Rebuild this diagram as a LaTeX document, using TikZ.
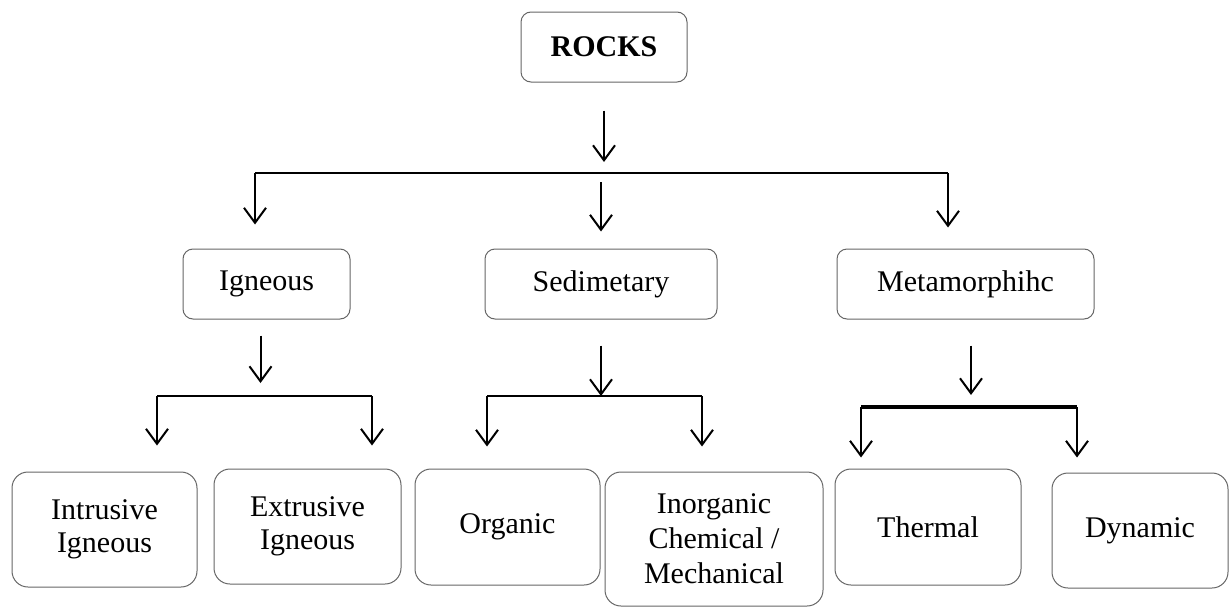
\documentclass[tikz,border=0pt]{standalone}
\usepackage{fontspec}
\setmainfont{Liberation Serif}
\usetikzlibrary{arrows.meta}
\tikzstyle{box}=[draw=black!60,line width=1pt,rounded corners=10pt,align=center,inner sep=0pt,font=\fontsize{30}{33}\selectfont]
\tikzstyle{tall}=[box,rounded corners=16pt]
\tikzstyle{arr}=[line width=2pt,-{Straight Barb[length=15pt,width=22pt]}]
\tikzstyle{bar}=[line width=2pt]
\tikzstyle{thickbar}=[line width=3.5pt]

\begin{document}
\begin{tikzpicture}[x=1pt,y=-1pt]
	\useasboundingbox (0,0) rectangle (1229,608);
	\node[box,minimum width=166pt,minimum height=70pt] (rocks) at (604,47) {\textbf{ROCKS}};
	\node[box,minimum width=167pt,minimum height=70pt] (ign) at (266.5,284) {Igneous};
	\node[box,minimum width=232pt,minimum height=70pt] (sed) at (601,284) {Sedimetary};
	\node[box,minimum width=257pt,minimum height=70pt] (met) at (965.5,284) {Metamorphihc};
	\node[tall,minimum width=185pt,minimum height=115pt] (intr) at (104.5,529.5) {Intrusive\\Igneous};
	\node[tall,minimum width=187pt,minimum height=115pt] (extr) at (307.5,526.5) {Extrusive\\Igneous};
	\node[tall,minimum width=185pt,minimum height=116pt] (org) at (507.5,527) {Organic};
	\node[tall,minimum width=218pt,minimum height=134pt,font=\fontsize{30}{35}\selectfont] (inorg) at (714,539) {Inorganic\\Chemical /\\Mechanical};
	\node[tall,minimum width=186pt,minimum height=116pt] (therm) at (928,527) {Thermal};
	\node[tall,minimum width=176pt,minimum height=115pt] (dyn) at (1140,530.5) {Dynamic};
	% first split
	\coordinate (top-l) at (255,173);
	\coordinate (top-r) at (948,173);
	\draw[bar] (top-l) -- (top-r);
	\draw[arr,shorten <=28pt,shorten >=11pt] (rocks.south) -- (rocks.south |- top-l);
	\draw[arr,shorten >=24pt] (top-l) -- (top-l |- ign.north);
	\draw[arr,shorten <=9pt,shorten >=17pt] (sed.north |- top-l) -- (sed.north);
	\draw[arr,shorten >=21pt] (top-r) -- (top-r |- met.north);
	% igneous
	\coordinate (ign-l) at (157,396);
	\coordinate (ign-r) at (372,396);
	\draw[bar] (ign-l) -- (ign-r);
	\draw[arr,shorten <=16pt,shorten >=13pt] ([xshift=-6pt]ign.south) -- ([xshift=-6pt]ign.south |- ign-l);
	\draw[arr,shorten >=26pt] (ign-l) -- (ign-l |- intr.north);
	\draw[arr,shorten >=23pt] (ign-r) -- (ign-r |- extr.north);
	% sedimentary
	\coordinate (sed-l) at (487,396);
	\coordinate (sed-r) at (702,396);
	\draw[bar] (sed-l) -- (sed-r);
	\draw[arr,shorten <=26pt] (sed.south) -- (sed.south |- sed-l);
	\draw[arr,shorten >=22pt] (sed-l) -- (sed-l |- org.north);
	\draw[arr,shorten >=25pt] (sed-r) -- (sed-r |- inorg.north);
	% metamorphic
	\coordinate (met-l) at (861,407);
	\coordinate (met-r) at (1077,407);
	\draw[thickbar] (met-l) -- (met-r);
	\draw[arr,shorten <=26pt,shorten >=12pt] ([xshift=5.5pt]met.south) -- ([xshift=5.5pt]met.south |- met-l);
	\draw[arr,shorten >=11pt] (met-l) -- (met-l |- therm.north);
	\draw[arr,shorten >=15pt] (met-r) -- (met-r |- dyn.north);
\end{tikzpicture}
\end{document}
